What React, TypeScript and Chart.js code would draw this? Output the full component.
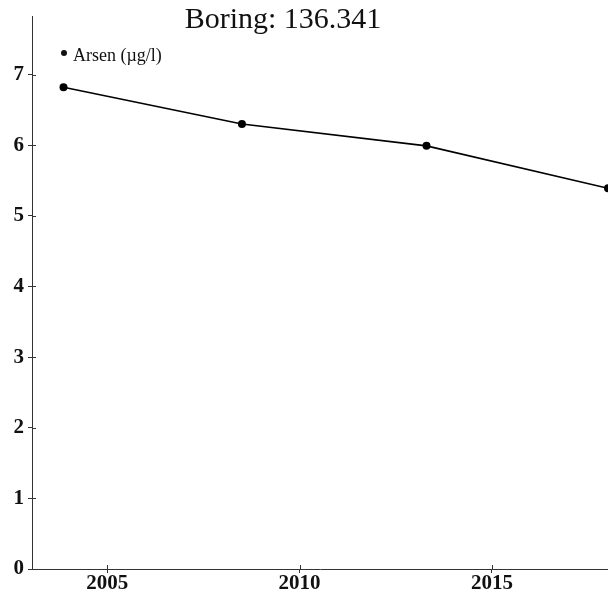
import React, { useEffect, useRef } from "react";
import { Chart, registerables } from "chart.js";

Chart.register(...registerables);

const TITLE = "Boring: 136.341";
const SERIES_LABEL = "Arsen (µg/l)";
const YEARS = [2003.86, 2008.5, 2013.3, 2018.02];
const VALUES = [6.82, 6.3, 5.99, 5.39];
const X_TICKS = [2005, 2010, 2015];
const Y_TICKS = [0, 1, 2, 3, 4, 5, 6, 7];

const SERIF = "'Liberation Serif', 'Times New Roman', serif";

const innerTicks = {
  id: "innerTicks",
  afterDraw(chart: any) {
    const ctx = chart.ctx;
    const { left, bottom } = chart.chartArea;
    const xs = chart.scales.x;
    const ys = chart.scales.y;
    ctx.save();
    ctx.strokeStyle = "#333";
    ctx.lineWidth = 1;
    ctx.beginPath();
    for (const t of Y_TICKS) {
      const y = Math.round(ys.getPixelForValue(t)) + 0.5;
      ctx.moveTo(left, y);
      ctx.lineTo(left + 4, y);
    }
    for (const t of X_TICKS) {
      const x = Math.round(xs.getPixelForValue(t)) + 0.5;
      ctx.moveTo(x, bottom);
      ctx.lineTo(x, bottom - 4);
    }
    ctx.stroke();
    // title
    ctx.fillStyle = "#111";
    ctx.font = `30px ${SERIF}`;
    ctx.textAlign = "center";
    ctx.textBaseline = "alphabetic";
    ctx.fillText(TITLE, 283, 28);
    // legend
    ctx.beginPath();
    ctx.arc(64, 53, 3, 0, Math.PI * 2);
    ctx.fill();
    ctx.font = `18px ${SERIF}`;
    ctx.textAlign = "left";
    ctx.fillText(SERIES_LABEL, 73, 61);
    ctx.restore();
  },
};

export default function App() {
  const ref = useRef<HTMLCanvasElement>(null);
  useEffect(() => {
    document.body.style.margin = "0";
    const chart = new Chart(ref.current!, {
      type: "line",
      data: {
        datasets: [
          {
            label: SERIES_LABEL,
            data: YEARS.map((x, i) => ({ x, y: VALUES[i] })),
            borderColor: "#000",
            backgroundColor: "#000",
            borderWidth: 1.6,
            pointRadius: 4,
            pointBackgroundColor: "#000",
            pointBorderWidth: 0,
            tension: 0,
            clip: false as any,
          },
        ],
      },
      options: {
        animation: false,
        responsive: false,
        layout: { autoPadding: false, padding: { top: 14, right: 0, left: 0, bottom: 0 } },
        plugins: { legend: { display: false }, title: { display: false }, tooltip: { enabled: false } },
        scales: {
          x: {
            type: "linear",
            min: 2003.04,
            max: 2018.02,
            afterBuildTicks: (s: any) => {
              s.ticks = X_TICKS.map((v) => ({ value: v }));
            },
            afterFit: (s: any) => {
              s.height = 24;
            },
            grid: { drawOnChartArea: false, tickLength: 4, color: "#333" },
            border: { display: true, color: "#333", width: 1 },
            ticks: {
              color: "#111",
              font: { family: SERIF, size: 21, weight: "bold", lineHeight: 1 },
              padding: 0,
              maxRotation: 0,
              callback: (v: any) => String(v),
            },
          },
          y: {
            type: "linear",
            min: 0,
            max: 7.82,
            afterBuildTicks: (s: any) => {
              s.ticks = Y_TICKS.map((v) => ({ value: v }));
            },
            afterFit: (s: any) => {
              s.width = 32;
            },
            grid: { drawOnChartArea: false, tickLength: 4, color: "#333" },
            border: { display: true, color: "#333", width: 1 },
            ticks: {
              color: "#111",
              font: { family: SERIF, size: 21, weight: "bold" },
              padding: 4,
              callback: (v: any) => String(v),
            },
          },
        },
      },
      plugins: [innerTicks],
    });
    return () => chart.destroy();
  }, []);
  return <canvas ref={ref} width={608} height={593} style={{ display: "block" }} />;
}
